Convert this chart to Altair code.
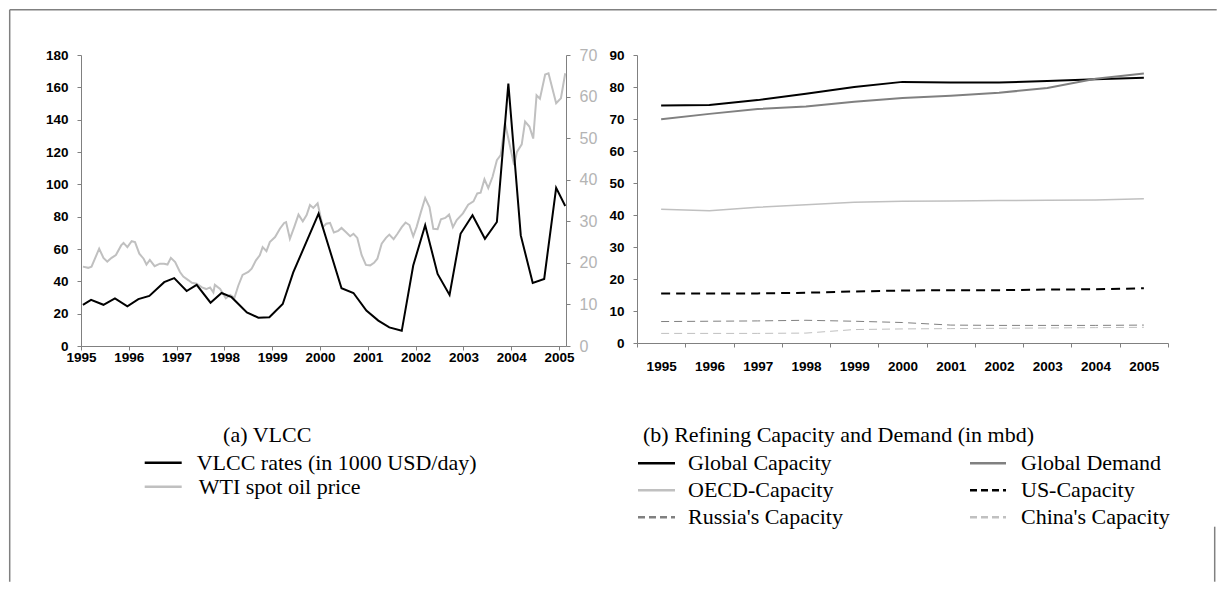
import altair as alt
import pandas as pd

# ---------------- Panel (a): VLCC rates and WTI spot price ----------------
vlcc_time = [1995.04, 1995.21, 1995.47, 1995.71, 1995.97, 1996.20, 1996.43, 1996.74, 1996.95, 1997.21,
             1997.42, 1997.71, 1997.94, 1998.15, 1998.47, 1998.71, 1998.94, 1999.22, 1999.44, 1999.97,
             2000.45, 2000.70, 2000.97, 2001.22, 2001.45, 2001.71, 2001.95, 2002.20, 2002.46, 2002.71,
             2002.94, 2003.19, 2003.45, 2003.70, 2003.94, 2004.20, 2004.45, 2004.69, 2004.94, 2005.13]
vlcc_rate = [25.5, 28.5, 25.5, 29.5, 24.5, 29.0, 31.0, 39.5, 42.0, 34.0,
             37.8, 26.8, 32.8, 30.2, 20.8, 17.5, 17.8, 26.0, 45.5, 81.9,
             35.7, 32.8, 21.9, 15.7, 11.5, 9.4, 49.8, 74.7, 44.6, 31.6,
             69.4, 80.9, 66.3, 76.7, 162.3, 68.4, 39.0, 41.5, 97.8, 86.6]

wti_time = [1995.04, 1995.15, 1995.22, 1995.38, 1995.47, 1995.55, 1995.64, 1995.73, 1995.84, 1995.89,
            1995.97, 1996.06, 1996.13, 1996.22, 1996.31, 1996.37, 1996.44, 1996.54, 1996.65, 1996.74,
            1996.81, 1996.88, 1996.97, 1997.07, 1997.14, 1997.25, 1997.32, 1997.42, 1997.53, 1997.62,
            1997.70, 1997.77, 1997.80, 1997.91, 1998.03, 1998.12, 1998.21, 1998.29, 1998.38, 1998.50,
            1998.57, 1998.66, 1998.74, 1998.80, 1998.88, 1998.95, 1999.06, 1999.16, 1999.25, 1999.29,
            1999.37, 1999.46, 1999.55, 1999.64, 1999.72, 1999.79, 1999.86, 1999.95, 2000.06, 2000.13,
            2000.21, 2000.29, 2000.38, 2000.45, 2000.54, 2000.63, 2000.70, 2000.78, 2000.87, 2000.96,
            2001.05, 2001.13, 2001.20, 2001.29, 2001.38, 2001.45, 2001.54, 2001.62, 2001.71, 2001.79,
            2001.87, 2001.95, 2002.02, 2002.11, 2002.20, 2002.29, 2002.37, 2002.46, 2002.53, 2002.62,
            2002.70, 2002.78, 2002.86, 2002.99, 2003.10, 2003.21, 2003.29, 2003.36, 2003.44, 2003.52,
            2003.61, 2003.70, 2003.78, 2003.87, 2003.94, 2004.06, 2004.12, 2004.22, 2004.29, 2004.38,
            2004.46, 2004.53, 2004.60, 2004.71, 2004.78, 2004.94, 2005.04, 2005.13]
wti_price = [19.1, 18.8, 19.1, 23.4, 21.2, 20.3, 21.2, 21.9, 24.2, 24.8,
             23.8, 25.2, 25.0, 22.2, 21.0, 19.6, 20.7, 19.2, 19.8, 19.8,
             19.6, 21.2, 20.2, 17.8, 16.7, 15.8, 15.2, 15.0, 14.1, 13.7,
             14.1, 12.9, 14.7, 13.7, 11.5, 12.3, 11.6, 14.5, 17.1, 17.8,
             18.6, 20.6, 21.8, 23.8, 22.8, 25.0, 26.2, 28.2, 29.6, 29.8,
             25.8, 28.6, 31.6, 30.0, 31.5, 33.9, 33.2, 34.3, 28.6, 29.4,
             29.6, 27.3, 27.7, 28.4, 27.4, 26.4, 27.0, 26.0, 21.9, 19.5,
             19.4, 20.0, 21.0, 24.6, 26.0, 26.8, 25.7, 27.0, 28.6, 29.7,
             29.1, 26.4, 28.6, 32.2, 35.6, 33.4, 28.2, 28.1, 30.5, 30.8,
             31.6, 28.6, 30.3, 31.9, 34.0, 34.8, 36.7, 36.9, 40.1, 38.0,
             40.7, 44.7, 45.9, 53.6, 49.9, 43.5, 46.7, 48.5, 54.0, 52.8,
             49.9, 60.3, 59.5, 65.3, 65.6, 58.4, 59.6, 65.6]

year_ticks = list(range(1995, 2006))

# ---------------- Panel (b): refining capacity and demand ----------------
years = [str(y) for y in range(1995, 2006)]
global_capacity = [74.2, 74.4, 75.9, 77.9, 80.0, 81.6, 81.4, 81.4, 81.9, 82.4, 82.9]
global_demand = [69.9, 71.6, 73.1, 73.9, 75.4, 76.6, 77.3, 78.2, 79.7, 82.6, 84.2]
oecd_capacity = [41.8, 41.3, 42.4, 43.2, 44.0, 44.3, 44.4, 44.5, 44.6, 44.7, 45.1]
us_capacity = [15.5, 15.5, 15.5, 15.7, 16.1, 16.4, 16.5, 16.5, 16.7, 16.8, 17.1]
russia_capacity = [6.7, 6.8, 6.9, 7.1, 6.8, 6.4, 5.6, 5.5, 5.5, 5.5, 5.6]
china_capacity = [3.0, 3.0, 3.0, 3.1, 4.2, 4.4, 4.5, 4.6, 4.7, 4.8, 4.9]

caption_a = "(a) VLCC"
caption_b = "(b) Refining Capacity and Demand (in mbd)"
legend_a = ["VLCC rates (in 1000 USD/day)", "WTI spot oil price"]
legend_b = ["Global Capacity", "Global Demand", "OECD-Capacity", "US-Capacity",
            "Russia's Capacity", "China's Capacity"]

# ---------------- styling ----------------
AXIS_GREY = "#808080"
MID_GREY = "#808080"
LIGHT_GREY = "#c0c0c0"
SANS = "Liberation Sans"
SERIF = "Liberation Serif"
SERIF_SIZE = 22

WL, HL = 485, 291
WR, HR = 531, 288

axis_black = dict(domainColor=AXIS_GREY, tickColor=AXIS_GREY, grid=False, labelFont=SANS,
                  labelFontWeight="bold", labelFontSize=13.5, labelColor="black", tickSize=4,
                  domainWidth=1, tickWidth=1)


def text_layer(s, x, y, align="left"):
    return alt.Chart(pd.DataFrame({"s": [s]})).mark_text(
        align=align, baseline="middle", font=SERIF, fontSize=SERIF_SIZE, color="black"
    ).encode(x=alt.value(x), y=alt.value(y), text="s:N")


def seg_layer(x1, x2, y, color, width, dash=None):
    kw = dict(color=color, strokeWidth=width)
    if dash is not None:
        kw["strokeDash"] = dash
    return alt.Chart(pd.DataFrame({"a": [0]})).mark_rule(**kw).encode(
        x=alt.value(x1), x2=alt.value(x2), y=alt.value(y))


def vseg_layer(x, y1, y2, color, width):
    return alt.Chart(pd.DataFrame({"a": [0]})).mark_rule(color=color, strokeWidth=width).encode(
        x=alt.value(x), y=alt.value(y1), y2=alt.value(y2))


# ---------------- left panel ----------------
df_vlcc = pd.DataFrame({"t": vlcc_time, "v": vlcc_rate})
df_wti = pd.DataFrame({"t": wti_time, "p": wti_price})

x_scale_a = alt.Scale(domain=[1995, 2005.146], nice=False, zero=False)
x_axis_a = alt.Axis(values=year_ticks, format="d", labelPadding=0, labelFlush=False, **axis_black)

wti_line = alt.Chart(df_wti).mark_line(color=LIGHT_GREY, strokeWidth=2).encode(
    x=alt.X("t:Q", scale=x_scale_a, axis=x_axis_a, title=None),
    y=alt.Y("p:Q", scale=alt.Scale(domain=[0, 70], nice=False), title=None,
            axis=alt.Axis(orient="right", values=list(range(0, 71, 10)), domainColor=AXIS_GREY,
                          tickColor=AXIS_GREY, grid=False, labelFont=SANS, labelFontSize=16,
                          labelColor="#b4b4b4", tickSize=4, labelPadding=9)),
)
vlcc_line = alt.Chart(df_vlcc).mark_line(color="black", strokeWidth=2).encode(
    x=alt.X("t:Q", scale=x_scale_a, axis=x_axis_a, title=None),
    y=alt.Y("v:Q", scale=alt.Scale(domain=[0, 180], nice=False), title=None,
            axis=alt.Axis(orient="left", values=list(range(0, 181, 20)), labelPadding=9, **axis_black)),
)

# page-frame lines (relative to left plot origin at page 79.3, 53.3)
frame = [
    seg_layer(-71.3, 1135.7, -45.3, AXIS_GREY, 1.5),
    vseg_layer(-71.3, -45.3, 526.7, AXIS_GREY, 1.5),
    vseg_layer(1133.7, 471.7, 526.7, AXIS_GREY, 1.5),
]

left_extras = [
    text_layer(caption_a, 186.2, 379.7, align="center"),
    seg_layer(63.7, 100.7, 407.7, "black", 2.5),
    text_layer(legend_a[0], 115.7, 407.7),
    seg_layer(63.7, 100.7, 431.7, LIGHT_GREY, 2.5),
    text_layer(legend_a[1], 117.7, 431.7),
]

left = alt.layer(wti_line, vlcc_line, *frame, *left_extras).resolve_scale(
    y="independent").properties(width=WL, height=HL)

# ---------------- right panel ----------------
series_b = [
    (global_capacity, "black", 2, None),
    (global_demand, MID_GREY, 2, None),
    (oecd_capacity, LIGHT_GREY, 1.5, None),
    (us_capacity, "black", 2, [9, 6]),
    (russia_capacity, MID_GREY, 1, [8, 5]),
    (china_capacity, LIGHT_GREY, 1, [8, 5]),
]

x_b = dict(scale=alt.Scale(type="band", paddingInner=0, paddingOuter=0),
           axis=alt.Axis(tickBand="extent", labelAngle=0, labelPadding=12, **axis_black),
           title=None, bandPosition=0.5)
y_b = dict(scale=alt.Scale(domain=[0, 90], nice=False), title=None,
           axis=alt.Axis(values=list(range(0, 91, 10)), labelPadding=9, **axis_black))

right_layers = []
for vals, color, width, dash in series_b:
    kw = dict(color=color, strokeWidth=width)
    if dash is not None:
        kw["strokeDash"] = dash
    df = pd.DataFrame({"year": years, "value": vals})
    right_layers.append(alt.Chart(df).mark_line(**kw).encode(
        x=alt.X("year:O", **x_b), y=alt.Y("value:Q", **y_b)))

rows = [408.3, 435.3, 462.3]
right_extras = [text_layer(caption_b, 6, 380.3)]
for i, (vals, color, width, dash) in enumerate(series_b):
    r = rows[i // 2]
    if i % 2 == 0:
        lx1, lx2, tx = 1, 38, 51
    else:
        lx1, lx2, tx = 333, 369, 384
    right_extras.append(seg_layer(lx1, lx2, r, color, 2.5, [7, 4] if dash is not None else None))
    right_extras.append(text_layer(legend_b[i], tx, r))

right = alt.layer(*right_layers, *right_extras).properties(width=WR, height=HR)

chart = alt.hconcat(left, right, spacing=71, bounds="flush").configure_view(
    stroke=None).properties(padding={"left": 0, "top": 0, "right": 0, "bottom": 0})

chart.save("out.html", embed_options={"renderer": "svg", "actions": False})
